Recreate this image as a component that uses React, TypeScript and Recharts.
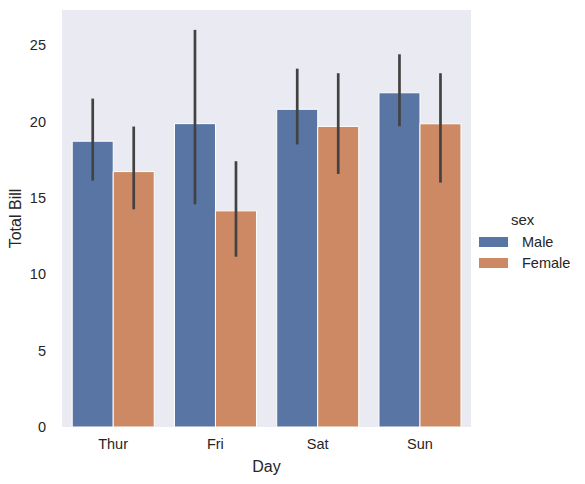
import React from 'react';
import { BarChart, Bar, XAxis, YAxis, CartesianGrid, ErrorBar } from 'recharts';

const days = ['Thur', 'Fri', 'Sat', 'Sun'];
const maleMean = [18.71, 19.86, 20.8, 21.88];
const femaleMean = [16.72, 14.15, 19.68, 19.85];
const maleLow = [16.13, 14.58, 18.5, 19.69];
const maleHigh = [21.5, 26.0, 23.46, 24.4];
const femaleLow = [14.25, 11.15, 16.57, 16.0];
const femaleHigh = [19.67, 17.4, 23.16, 23.16];
const yTicks = [0, 5, 10, 15, 20, 25];
const series = ['Male', 'Female'];

const MALE = '#5875a4';
const FEMALE = '#cc8963';
const TEXT = '#262626';
const FONT = '"Liberation Sans", Arial, sans-serif';

const data = days.map((d, i) => ({
  day: d,
  Male: maleMean[i],
  Female: femaleMean[i],
  maleErr: [maleMean[i] - maleLow[i], maleHigh[i] - maleMean[i]],
  femaleErr: [femaleMean[i] - femaleLow[i], femaleHigh[i] - femaleMean[i]],
}));

const LegendBox = () => (
  <div style={{ position: 'absolute', left: 479, top: 211, width: 106, height: 60, fontFamily: FONT, color: TEXT }}>
    <div style={{ position: 'absolute', left: 32, top: 0, lineHeight: '18px', fontSize: 15 }}>sex</div>
    <div style={{ position: 'absolute', left: 0, top: 26, width: 29, height: 10, background: MALE }} />
    <div style={{ position: 'absolute', left: 43, top: 22, lineHeight: '18px', fontSize: 14.5 }}>{series[0]}</div>
    <div style={{ position: 'absolute', left: 0, top: 47, width: 29, height: 10, background: FEMALE }} />
    <div style={{ position: 'absolute', left: 43, top: 43, lineHeight: '18px', fontSize: 14.5 }}>{series[1]}</div>
  </div>
);

export default function App() {
  const tickStyle = { fontSize: 14.5, fill: TEXT, fontFamily: FONT };
  return (
    <div style={{ position: 'absolute', left: 0, top: 0, width: 585, height: 484, background: '#fff' }}>
      <BarChart
        width={585}
        height={484}
        data={data}
        margin={{ top: 10, right: 114, bottom: 0, left: 0 }}
        barCategoryGap="10%"
        barGap={0}
      >
        <CartesianGrid fill="#eaeaf2" horizontal={false} vertical={false} stroke="none" />
        <XAxis
          dataKey="day"
          height={57}
          tickLine={false}
          axisLine={false}
          tickSize={0}
          tickMargin={12}
          tick={tickStyle}
          label={{
            content: (p: any) => {
              const vb = p.viewBox;
              return (
                <text x={vb.x + vb.width / 2} y={472} textAnchor="middle" fontSize={16} fill={TEXT} fontFamily={FONT}>
                  Day
                </text>
              );
            },
          }}
        />
        <YAxis
          width={62}
          domain={[0, 27.3]}
          ticks={yTicks}
          tickLine={false}
          axisLine={false}
          tickSize={0}
          tickMargin={16}
          tick={tickStyle}
          label={{
            content: (p: any) => {
              const vb = p.viewBox;
              const cy = vb.y + vb.height / 2;
              return (
                <text
                  x={21}
                  y={cy}
                  transform={`rotate(-90, 21, ${cy})`}
                  textAnchor="middle"
                  fontSize={16}
                  fill={TEXT}
                  fontFamily={FONT}
                >
                  Total Bill
                </text>
              );
            },
          }}
        />
        <Bar dataKey="Male" fill={MALE} stroke="#fff" strokeWidth={1} isAnimationActive={false}>
          <ErrorBar dataKey="maleErr" width={0} stroke="#424242" strokeWidth={2.7} direction="y" />
        </Bar>
        <Bar dataKey="Female" fill={FEMALE} stroke="#fff" strokeWidth={1} isAnimationActive={false}>
          <ErrorBar dataKey="femaleErr" width={0} stroke="#424242" strokeWidth={2.7} direction="y" />
        </Bar>
      </BarChart>
      <LegendBox />
    </div>
  );
}
